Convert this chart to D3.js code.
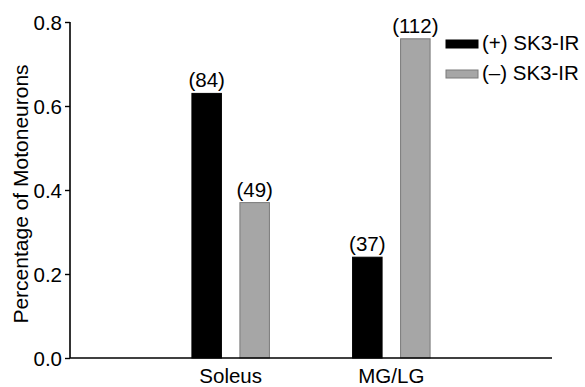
<!DOCTYPE html>
<html>
<head>
<meta charset="utf-8">
<script src="https://cdn.jsdelivr.net/npm/d3@7"></script>
<style>
  body { margin: 0; background: #fff; }
  svg text { font-family: "Liberation Sans", Arial, sans-serif; fill: #000; }
</style>
</head>
<body>
<svg class="chart" width="585" height="387"></svg>
<script>
const categories = ["Soleus", "MG/LG"];
const seriesNames = ["(+) SK3-IR", "(\u2013) SK3-IR"];
const positive = [0.63, 0.24];
const negative = [0.37, 0.76];
const posCounts = ["(84)", "(37)"];
const negCounts = ["(49)", "(112)"];
const yTicks = [0, 0.2, 0.4, 0.6, 0.8];

const svg = d3.select(".chart");
const margin = {top: 22, right: 33, bottom: 29, left: 70};
const width = 585 - margin.left - margin.right;
const height = 387 - margin.top - margin.bottom;
const fs = 20.5;

const g = svg.append("g").attr("transform", "translate(" + margin.left + "," + margin.top + ")");

// categories sit at 1 and 2 on a 0..3 axis
const x = d3.scaleLinear().domain([0, 3]).range([0, width]);
const y = d3.scaleLinear().domain([0, 0.8]).range([height, 0]);

const barW = 29.5;
const offset = 24;

const rows = [];
categories.forEach((c, i) => {
  rows.push({cat: i + 1, s: 0, v: positive[i], n: posCounts[i]});
  rows.push({cat: i + 1, s: 1, v: negative[i], n: negCounts[i]});
});
const fill = ["#000", "#a6a6a6"];
const stroke = ["#000", "#7a7a7a"];

g.selectAll("rect.bar")
  .data(rows)
  .enter().append("rect")
  .attr("class", "bar")
  .attr("x", d => x(d.cat) + (d.s ? offset : -offset) - barW / 2)
  .attr("y", d => y(d.v))
  .attr("width", barW)
  .attr("height", d => y(0) - y(d.v))
  .attr("fill", d => fill[d.s])
  .attr("stroke", d => stroke[d.s])
  .attr("stroke-width", 1);

g.selectAll("text.count")
  .data(rows)
  .enter().append("text")
  .attr("class", "count")
  .attr("x", d => x(d.cat) + (d.s ? offset : -offset))
  .attr("y", d => y(d.v) - 6)
  .attr("text-anchor", "middle")
  .attr("font-size", fs)
  .text(d => d.n);

// y axis
const yAxis = d3.axisLeft(y).tickValues(yTicks).tickFormat(d3.format(".1f")).tickSize(5).tickPadding(3);
const ya = g.append("g").call(yAxis);
ya.select(".domain").attr("stroke-width", 1.6).attr("d", "M0," + y(0.8) + "V" + height);
ya.selectAll(".tick line").attr("stroke-width", 1.4);
ya.selectAll(".tick text").attr("font-size", fs).attr("font-family", "Liberation Sans, Arial, sans-serif").attr("dy", "0.36em");

// x axis baseline
g.append("line")
  .attr("x1", 0).attr("x2", x(3))
  .attr("y1", height).attr("y2", height)
  .attr("stroke", "#000").attr("stroke-width", 1.6);

g.selectAll("text.cat")
  .data(categories)
  .enter().append("text")
  .attr("class", "cat")
  .attr("x", (d, i) => x(i + 1))
  .attr("y", height + 25)
  .attr("text-anchor", "middle")
  .attr("font-size", fs)
  .text(d => d);

svg.append("text")
  .attr("transform", "translate(28,194) rotate(-90)")
  .attr("text-anchor", "middle")
  .attr("font-size", 21)
  .text("Percentage of Motoneurons");

// legend
const legend = svg.append("g").attr("transform", "translate(446,40)");
seriesNames.forEach((name, i) => {
  legend.append("rect")
    .attr("x", 0).attr("y", i * 30)
    .attr("width", 32).attr("height", 8)
    .attr("fill", fill[i]).attr("stroke", stroke[i]);
  legend.append("text")
    .attr("x", 36).attr("y", i * 30 + 10)
    .attr("font-size", fs)
    .text(name);
});
</script>
</body>
</html>
